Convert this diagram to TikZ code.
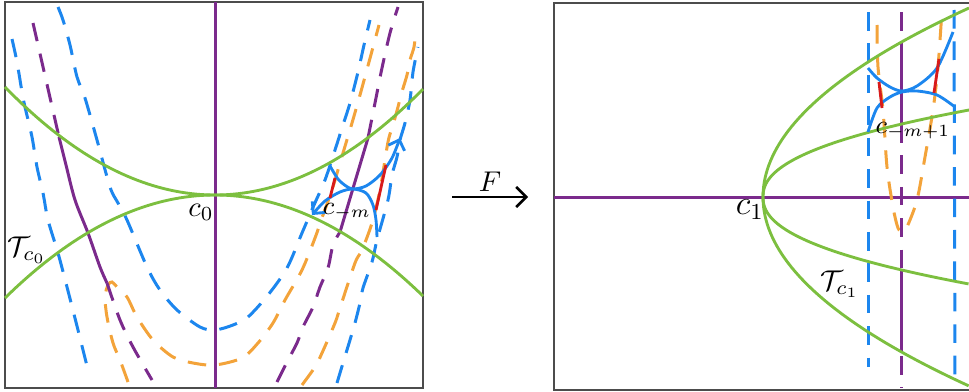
\documentclass[tikz,border=0pt]{standalone}
\usepackage{amsmath,amssymb}
\usepackage{tikz}
\usetikzlibrary{arrows.meta,calc,positioning}
\definecolor{dyngreen}{HTML}{7CBF3F}
\definecolor{dynblue}{HTML}{1C86EE}
\definecolor{dynpurple}{HTML}{7B2A8C}
\definecolor{dynorange}{HTML}{F3A33A}
\definecolor{dynred}{HTML}{D81B1B}

\begin{document}
\begin{tikzpicture}[
    x=0.35pt, y=-0.35pt,
    frame/.style={draw=black!70, line width=0.5pt},
    grn/.style={dyngreen, line width=1pt},
    purp/.style={dynpurple, line width=1.05pt},
    blu/.style={dynblue, line width=1pt},
    redseg/.style={dynred, line width=1pt},
    dsh/.style={line width=1.05pt, dash pattern=on 6.5pt off 4.5pt},
    bluedash/.style={dsh, dynblue},
    orgdash/.style={dsh, dynorange},
    purpdash/.style={dsh, dynpurple},
    tip/.style={-{Straight Barb[length=3pt, width=6pt]}},
    maparrow/.style={-{Straight Barb[length=3.5pt, width=7pt]}, line width=0.9pt},
    lbl/.style={inner sep=1pt},
]
\useasboundingbox (0,0) rectangle (969,392);

% Left panel
\draw[frame] (5,2) rectangle (423,388);

% preimage arcs (dashed)
\draw[bluedash] plot[smooth] coordinates {(12,39) (17,62) (22,92) (25,107)
    (32,137) (37,167) (43,193) (48,220) (58,253) (67,287) (78,330) (88,370)};
\draw[bluedash] plot[smooth] coordinates {(58,7) (63,20) (70,45) (77,77)
    (85,98) (97,140) (110,187) (118,203) (127,220) (147,267) (160,290)
    (177,310) (200,327) (215,330) (233,325) (248,317) (268,295) (287,268)
    (302,233) (314,205) (325,180) (335,150) (343,125) (350,103) (358,72)
    (364,45) (370,20)};
\draw[orgdash] plot[smooth] coordinates {(128,382) (120,360) (113,343)
    (107,317) (105,297) (108,285) (112,282) (117,287) (127,297) (137,317)
    (153,340) (173,357) (193,363) (215,365) (242,358) (258,343) (273,323)
    (285,300) (302,270) (315,238) (323,215) (332,190) (340,163) (346,143)
    (352,123) (360,95) (369,62) (379,25)};
\draw[orgdash] plot[smooth] coordinates {(302,385) (315,367) (322,353)
    (335,323) (340,308) (355,263) (362,250) (372,223) (380,190) (388,142)
    (393,125) (398,107) (401,95) (407,75) (410,60) (414,47) (416,30)};
\draw[bluedash] plot[smooth] coordinates {(337,383) (343,363) (350,340)
    (355,323) (360,303) (363,288) (372,262) (377,240) (388,200) (392,175)
    (397,157) (400,140) (405,123) (410,100) (413,72) (418,47)};

% purple curves
\draw[purpdash] plot[smooth] coordinates {(33,23) (46,80) (59,137)};
\draw[purp] plot[smooth] coordinates {(59,137) (66,165) (75,200) (88,233)
    (100,267) (107,283)};
\draw[purpdash] plot[smooth] coordinates {(107,283) (120,320) (133,347) (152,380)};
\draw[purpdash] plot[smooth] coordinates {(277,382) (287,362) (297,343)
    (303,327) (313,307) (320,287) (328,268) (333,245) (340,232)};
\draw[purp] (340,232) -- (368,138);
\draw[purpdash] plot[smooth] coordinates {(368,138) (375,103) (382,68)
    (390,33) (398,7)};
\draw[purp] (215,2) -- (215,388);

% tangent curves through c0
\draw[grn] plot[domain=5:423, samples=80]
    (\x, {195-108*((\x-215)/210)*((\x-215)/210)});
\draw[grn] plot[domain=5:423, samples=80]
    (\x, {195+103*((\x-215)/210)*((\x-215)/210)});

% box around c_{-m}
\draw[blu, tip] plot[smooth] coordinates {(330,166) (338,179) (346,186)
    (353,189) (366,186) (380,175) (392,158) (400,138)};
\draw[blu, tip] plot[smooth] coordinates {(377,237) (376,220) (373,205)
    (366,193) (353,189) (340,192) (325,201) (312,215)};
\draw[redseg] (335,178) -- (330,198);
\draw[redseg] (386,165) -- (376,210);

\node[lbl] (c0) at (201,212) {$c_0$};
\node[lbl] (tc0) at (27,250) {$\mathcal{T}_{c_0}$};
\node[lbl, font=\small] (cm) at (347,212) {$c_{-m}$};

% Map F
\coordinate (fL) at (452,197);
\coordinate (fR) at (528,197);
\draw[maparrow] (fL) -- (fR);
\node[lbl] (fname) at (490,182) {$F$};

% Right panel
\draw[frame] (969,3) -- (554,3) -- (554,390) -- (969,390);
\draw[purp] (554,197) -- (969,197);

\draw[bluedash] (868,12) -- (868,367);
\draw[bluedash] (954,10) -- (955,383);
\draw[orgdash] plot[smooth] coordinates {(877,25) (878,67) (883,110)
    (887,167) (893,207) (898,228) (903,232) (907,227) (917,200) (925,157)
    (933,110) (938,67) (942,10)};

\draw[purpdash] (901,12) -- (901,42);
\draw[purp] (901,42) -- (901,124);
\draw[purpdash] (901,124) -- (901,270);
\draw[purp] (901,270) -- (901,352);
\draw[purpdash] (901,356) -- (901,388);

% image of the tangent curves
\draw[grn] plot[domain=-1:1, samples=90, variable=\t]
    ({763+206*\t*\t}, {197+189*\t});
\draw[grn] plot[domain=-1:1, samples=90, variable=\t]
    ({763+206*\t*\t*sqrt(sqrt(abs(\t)))}, {197+87*\t});

% box around c_{-m+1}
\draw[blu] plot[smooth] coordinates {(868,68) (877,78) (890,87) (902,91)
    (917,86) (937,68) (953,32)};
\draw[blu] plot[smooth] coordinates {(868,132) (877,108) (890,97) (902,92)
    (917,91) (937,95) (955,107)};
\draw[redseg] (879,82) -- (882,108);
\draw[redseg] (939,59) -- (934,93);

\node[lbl, font=\large] (c1) at (750,210) {$c_1$};
\node[lbl] (tc1) at (840,284) {$\mathcal{T}_{c_1}$};
\node[lbl, font=\small] (cm1) at (913,131) {$c_{-m+1}$};
\end{tikzpicture}
\end{document}
